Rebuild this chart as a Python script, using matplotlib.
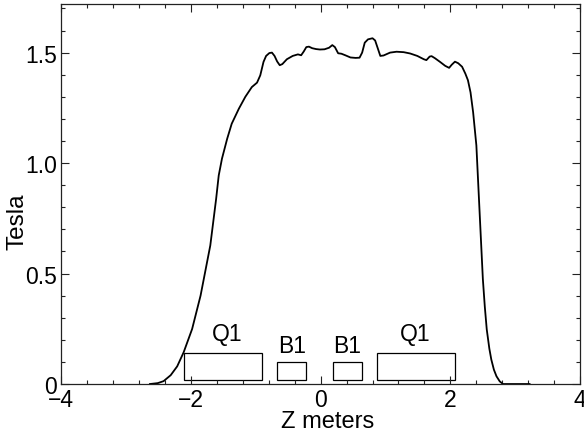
import matplotlib
matplotlib.use('Agg')
from matplotlib import pyplot as plt
from matplotlib.patches import Rectangle
from matplotlib.ticker import MultipleLocator

plt.rcParams['font.family'] = ['Liberation Sans', 'DejaVu Sans']

# on-axis field profile
z = [-2.63, -2.51, -2.42, -2.31, -2.21, -2.11, -1.98, -1.85, -1.70, -1.61,
     -1.57, -1.52, -1.44, -1.37, -1.26, -1.16, -1.06, -0.98, -0.93, -0.88,
     -0.84, -0.79, -0.75, -0.71, -0.67, -0.63, -0.59, -0.52, -0.43, -0.35,
     -0.30, -0.26, -0.22, -0.18, -0.13, -0.07, -0.01, 0.06, 0.13, 0.18,
     0.22, 0.27, 0.32, 0.38, 0.46, 0.54, 0.60, 0.64, 0.68, 0.73,
     0.80, 0.84, 0.88, 0.92, 0.97, 1.07, 1.17, 1.28, 1.38, 1.49,
     1.59, 1.63, 1.68, 1.71, 1.76, 1.84, 1.92, 1.98, 2.02, 2.07,
     2.12, 2.18, 2.23, 2.27, 2.31, 2.35, 2.38, 2.40, 2.45, 2.50,
     2.53, 2.56, 2.60, 2.63, 2.67, 2.71, 2.76, 2.81, 3.22]
bz = [0.0, 0.004, 0.013, 0.04, 0.08, 0.144, 0.249, 0.40, 0.627, 0.838,
      0.944, 1.02, 1.11, 1.178, 1.246, 1.30, 1.344, 1.364, 1.397, 1.458,
      1.485, 1.498, 1.50, 1.485, 1.46, 1.443, 1.448, 1.47, 1.485, 1.492,
      1.488, 1.505, 1.525, 1.527, 1.52, 1.516, 1.514, 1.515, 1.522, 1.534,
      1.525, 1.497, 1.495, 1.488, 1.478, 1.476, 1.477, 1.50, 1.545, 1.560,
      1.565, 1.555, 1.52, 1.485, 1.487, 1.50, 1.504, 1.502, 1.496, 1.485,
      1.47, 1.466, 1.482, 1.484, 1.475, 1.458, 1.44, 1.431, 1.445, 1.459,
      1.452, 1.436, 1.405, 1.375, 1.32, 1.23, 1.14, 1.08, 0.777, 0.475,
      0.35, 0.247, 0.16, 0.111, 0.065, 0.035, 0.012, 0.0, 0.0]

# magnet elements along the beamline
magnet_names = ['Q1', 'B1', 'B1', 'Q1']
magnet_start = [-2.11, -0.665, 0.19, 0.875]
magnet_end = [-0.91, -0.225, 0.635, 2.075]
magnet_top = [0.139, 0.10, 0.10, 0.139]
magnet_bottom = 0.02
label_x = [-1.44, -0.44, 0.41, 1.45]
label_y = [0.23, 0.174, 0.174, 0.23]

fig = plt.figure(figsize=(5.84, 4.35), dpi=100)
ax = fig.add_axes([0.1045, 0.1149, 0.889, 0.8736])

ax.plot(z, bz, color='black', linewidth=1.3)

for name, x0, x1, top, lx, ly in zip(magnet_names, magnet_start, magnet_end,
                                     magnet_top, label_x, label_y):
    ax.add_patch(Rectangle((x0, magnet_bottom), x1 - x0, top - magnet_bottom,
                           fill=False, edgecolor='black', linewidth=0.9))
    ax.text(lx, ly, name, ha='center', va='center', fontsize=16.5)

ax.set_xlim(-4, 4)
ax.set_ylim(0, 1.72)
ax.xaxis.set_minor_locator(MultipleLocator(0.4))
ax.yaxis.set_minor_locator(MultipleLocator(0.1))
ax.set_yticks([0, 0.5, 1.0, 1.5])
ax.set_yticklabels(['0', '0.5', '1.0', '1.5'])
ax.set_xticks([-4, -2, 0, 2, 4])
ax.set_xticklabels(['\u22124', '\u22122', '0', '2', '4'])

ax.tick_params(which='both', direction='in', top=True, right=True,
               color='#222222', labelsize=16.5)
ax.tick_params(which='major', length=6, width=0.8)
ax.tick_params(which='minor', length=3, width=0.8)
ax.tick_params(axis='x', pad=3)
ax.tick_params(axis='y', pad=3)
for spine in ax.spines.values():
    spine.set_color('#222222')
    spine.set_linewidth(0.9)

ax.set_xlabel('Z meters', fontsize=17)
ax.set_ylabel('Tesla', fontsize=17.5)
ax.xaxis.set_label_coords(0.514, -0.112)
ax.xaxis.label.set_va('baseline')
ax.yaxis.set_label_coords(-0.083, 0.429)
ax.yaxis.label.set_va('center')

fig.savefig('out.png', dpi=100)
